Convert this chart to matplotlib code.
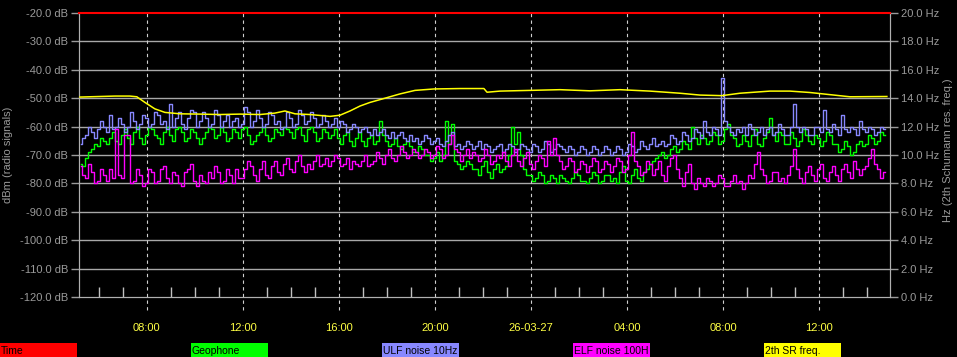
"""
Geophone / ULF / ELF noise and 2nd Schumann resonance, 26-03-26 .. 26-03-27
"""
import numpy as np
import matplotlib
matplotlib.use("Agg")
import matplotlib.pyplot as plt
from matplotlib.patches import Rectangle

plt.rcParams["font.family"] = ["Liberation Sans", "DejaVu Sans"]

# sample times in hours from 26-03-26 00:00, every 7.5 min
t = np.arange(5.25, 38.76, 0.125)

ulf_db = [-66, -64, -63, -60, -62, -64, -61, -58, -60, -62,
          -56, -61, -60, -57, -59, -62, -60, -55, -58, -61,
          -59, -56, -57, -60, -59, -55, -56, -59, -58, -61,
          -52, -60, -57, -55, -59, -61, -57, -54, -55, -60,
          -58, -55, -57, -60, -59, -54, -56, -60, -58, -56,
          -60, -58, -57, -60, -59, -53, -55, -60, -58, -54,
          -57, -60, -59, -55, -56, -59, -58, -61, -60, -55,
          -57, -60, -59, -54, -56, -59, -58, -55, -57, -60,
          -59, -56, -58, -60, -59, -57, -60, -58, -59, -62,
          -61, -59, -60, -62, -61, -60, -62, -63, -61, -63,
          -62, -61, -63, -64, -62, -64, -63, -62, -64, -65,
          -63, -65, -64, -66, -65, -63, -64, -66, -65, -64,
          -66, -67, -65, -63, -62, -67, -66, -68, -67, -65,
          -66, -68, -67, -65, -68, -66, -67, -69, -68, -67,
          -66, -69, -68, -66, -67, -69, -68, -66, -67, -68,
          -69, -66, -67, -69, -68, -65, -66, -69, -68, -66,
          -67, -68, -69, -67, -68, -70, -69, -67, -68, -70,
          -69, -67, -68, -70, -69, -67, -68, -70, -69, -67,
          -68, -70, -69, -66, -67, -69, -68, -65, -67, -68,
          -66, -64, -67, -66, -65, -67, -66, -63, -64, -66,
          -65, -62, -63, -65, -64, -61, -62, -64, -58, -62,
          -63, -60, -61, -63, -43, -58, -60, -62, -63, -61,
          -62, -60, -63, -59, -61, -63, -62, -60, -63, -61,
          -60, -63, -62, -59, -61, -63, -63, -60, -52, -60,
          -62, -60, -61, -63, -63, -60, -60, -62, -54, -61,
          -62, -59, -61, -63, -56, -61, -62, -60, -61, -63,
          -58, -61, -62, -60, -61, -63, -62, -60, -61]

geo_db = [-73, -74, -71, -69, -68, -66, -67, -64, -65, -66,
          -64, -62, -65, -66, -63, -61, -64, -66, -62, -60,
          -64, -66, -63, -60, -61, -63, -64, -66, -62, -60,
          -63, -65, -61, -60, -62, -65, -64, -61, -62, -64,
          -66, -64, -62, -60, -61, -64, -63, -60, -62, -65,
          -64, -61, -62, -64, -61, -60, -63, -66, -65, -63,
          -62, -60, -63, -65, -64, -61, -62, -63, -60, -61,
          -62, -64, -61, -60, -63, -65, -61, -60, -62, -65,
          -64, -61, -62, -64, -63, -61, -64, -66, -63, -62,
          -65, -67, -64, -62, -65, -67, -64, -63, -66, -65,
          -58, -63, -65, -67, -66, -64, -67, -68, -66, -65,
          -67, -69, -69, -67, -68, -70, -70, -72, -71, -69,
          -72, -70, -58, -66, -59, -72, -73, -75, -74, -72,
          -73, -75, -75, -77, -74, -72, -76, -78, -75, -73,
          -76, -75, -74, -70, -60, -66, -62, -70, -75, -77,
          -77, -79, -78, -76, -77, -80, -79, -77, -78, -80,
          -77, -78, -79, -80, -78, -76, -77, -79, -79, -80,
          -78, -76, -77, -80, -79, -77, -77, -79, -78, -80,
          -76, -74, -79, -80, -77, -75, -78, -79, -76, -75,
          -73, -72, -71, -70, -69, -71, -70, -68, -67, -69,
          -68, -65, -66, -68, -60, -64, -66, -63, -64, -66,
          -65, -62, -63, -66, -65, -61, -59, -63, -64, -67,
          -66, -63, -65, -67, -63, -61, -66, -67, -64, -62,
          -57, -63, -65, -62, -63, -66, -66, -62, -64, -67,
          -65, -61, -63, -65, -66, -63, -64, -67, -65, -62,
          -63, -66, -66, -69, -68, -65, -67, -70, -69, -66,
          -65, -67, -66, -63, -64, -66, -65, -62, -63]

elf_db = [-74, -77, -78, -73, -76, -80, -79, -75, -77, -79,
          -75, -78, -61, -77, -78, -63, -63, -80, -79, -75,
          -77, -81, -80, -75, -76, -80, -79, -75, -74, -78,
          -80, -76, -77, -80, -81, -76, -75, -73, -79, -81,
          -77, -79, -80, -76, -78, -74, -76, -80, -79, -75,
          -77, -80, -75, -78, -78, -75, -72, -74, -77, -79,
          -75, -72, -77, -78, -74, -72, -76, -77, -73, -71,
          -75, -76, -72, -70, -74, -76, -73, -75, -72, -70,
          -74, -73, -71, -74, -72, -70, -71, -74, -73, -71,
          -75, -72, -73, -74, -72, -70, -74, -73, -72, -69,
          -71, -73, -70, -68, -71, -72, -70, -67, -69, -71,
          -70, -68, -69, -71, -70, -68, -69, -71, -70, -67,
          -68, -71, -70, -66, -63, -68, -69, -72, -70, -68,
          -71, -69, -70, -72, -71, -68, -70, -73, -72, -70,
          -71, -69, -72, -74, -70, -68, -72, -74, -71, -69,
          -73, -75, -72, -70, -71, -74, -65, -70, -64, -70,
          -72, -75, -74, -71, -72, -76, -75, -72, -73, -76,
          -74, -71, -72, -76, -75, -72, -73, -76, -74, -71,
          -72, -76, -75, -70, -62, -72, -74, -77, -76, -72,
          -73, -77, -75, -72, -77, -79, -74, -71, -70, -75,
          -78, -81, -76, -73, -80, -82, -78, -80, -81, -78,
          -79, -81, -80, -77, -78, -81, -81, -79, -77, -80,
          -79, -82, -80, -77, -78, -73, -69, -75, -77, -80,
          -79, -76, -76, -79, -78, -80, -77, -74, -68, -75,
          -78, -80, -76, -74, -77, -79, -75, -73, -78, -79,
          -76, -74, -77, -79, -75, -73, -76, -78, -72, -75,
          -77, -75, -74, -71, -68, -73, -75, -78, -76]

# 2nd Schumann resonance frequency (Hz), slower curve
sr_t = [5.21, 6.04, 6.67, 7.29, 7.58, 7.92, 8.33, 8.75, 9.38, 10.21,
        11.04, 11.88, 12.71, 13.33, 13.75, 14.17, 14.79, 15.63, 16.04, 16.46,
        16.88, 17.29, 17.92, 18.54, 19.17, 19.96, 21.04, 22.04, 22.17, 22.71,
        23.96, 25.21, 26.46, 27.71, 28.96, 30.21, 31.04, 31.96, 32.71, 33.96,
        34.79, 35.63, 36.46, 37.29, 38.83]
sr_hz = [14.08, 14.12, 14.15, 14.15, 14.1, 13.7, 13.25, 13.0, 12.9, 12.88,
         12.85, 12.88, 12.85, 12.95, 13.1, 12.9, 12.85, 12.72, 12.8, 13.1,
         13.45, 13.7, 14.0, 14.3, 14.55, 14.65, 14.68, 14.68, 14.42, 14.5,
         14.55, 14.6, 14.52, 14.6, 14.5, 14.35, 14.22, 14.18, 14.35, 14.5,
         14.5, 14.4, 14.25, 14.1, 14.12]

major_hours = [8, 12, 16, 20, 24, 28, 32, 36]
major_labels = ["08:00", "12:00", "16:00", "20:00", "26-03-27", "04:00", "08:00", "12:00"]

legend_names = ["Time", "Geophone", "ULF noise 10Hz", "ELF noise 100H", "2th SR freq."]
legend_colors = ["#ff0000", "#00ff00", "#8888ff", "#ff00ff", "#ffff00"]

W, H = 957, 357
fig = plt.figure(figsize=(W / 100, H / 100), dpi=100, facecolor="black")
ax = fig.add_axes([79 / W, 1 - 297 / H, (890 - 79) / W, (297 - 13) / H])
ax.set_facecolor("black")
grey = "#9a9a9a"
fs = 8

ax.set_xlim(5.17, 38.96)
ax.set_ylim(-120, -20)

# horizontal grid
for v in range(-110, -20, 10):
    ax.axhline(v, color="#a8a8a8", lw=1, zorder=1)

# dashed vertical lines, running a bit under the axis
for h in major_hours:
    ax.axvline(h, ymin=-0.046, ymax=1, color="#d0d0d0", lw=0.8,
               ls=(0, (3, 3)), clip_on=False, zorder=1)

ax.plot(t, geo_db, color=legend_colors[1], lw=1, drawstyle="steps-mid", zorder=2)
ax.plot(t, ulf_db, color=legend_colors[2], lw=1, drawstyle="steps-mid", zorder=3)
ax.plot(t, elf_db, color=legend_colors[3], lw=1, drawstyle="steps-mid", zorder=4)

ax.set_yticks(range(-120, -19, 10))
ax.set_yticklabels(["%.1f dB" % v for v in range(-120, -19, 10)])
ax.tick_params(axis="y", colors=grey, labelsize=fs, length=6, width=1, pad=2)
ax.set_xticks(major_hours)
ax.set_xticklabels(major_labels)
ax.set_xticks(range(6, 39), minor=True)
ax.tick_params(axis="x", which="major", length=0, pad=19, labelcolor="#ffff44", labelsize=fs)
ax.tick_params(axis="x", which="minor", direction="in", length=7, color="#c0c0c0", width=1)

for s in ["left", "right", "bottom"]:
    ax.spines[s].set_color("#b0b0b0")
ax.spines["top"].set_visible(False)

ax2 = ax.twinx()
ax2.set_ylim(0, 20)
ax2.plot(sr_t, sr_hz, color=legend_colors[4], lw=1.1, zorder=5)
ax2.set_yticks(range(0, 21, 2))
ax2.set_yticklabels(["%.1f Hz" % v for v in range(0, 21, 2)])
ax2.tick_params(axis="y", colors=grey, labelsize=fs, length=6, width=1, pad=2)
for s in ["left", "right", "bottom"]:
    ax2.spines[s].set_color("#b0b0b0")
# the "Time" trace runs along the top edge
ax2.spines["top"].set_color("#ff0000")
ax2.spines["top"].set_linewidth(1.5)

fig.text(8 / W, 1 - 155 / H, "dBm (radio signals)", color=grey, fontsize=fs,
         rotation=90, ha="center", va="center")
fig.text(948 / W, 1 - 150 / H, "Hz (2th Schumann res. freq.)", color=grey, fontsize=fs,
         rotation=90, ha="center", va="center")

# legend strip along the bottom
for i, (name, col) in enumerate(zip(legend_names, legend_colors)):
    x0 = i * 191
    fig.patches.append(Rectangle((x0 / W, 0), 77 / W, 14 / H, transform=fig.transFigure,
                                 facecolor=col, edgecolor="none"))
    fig.text((x0 + 1) / W, 6 / H, name, color="black", fontsize=7.5, va="center", ha="left")

fig.savefig("out.png", dpi=100, facecolor="black")
